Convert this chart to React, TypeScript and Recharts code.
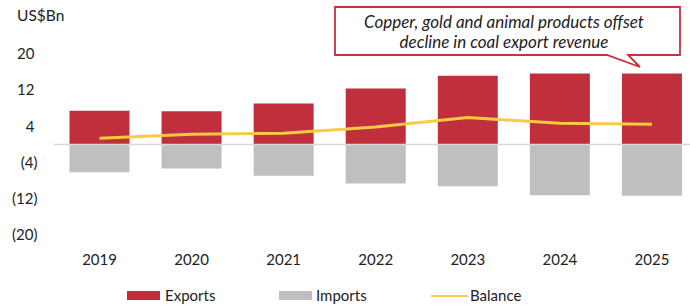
import React from 'react';
import { ComposedChart, Bar, Line, XAxis, YAxis, ReferenceLine, Legend } from 'recharts';

const years = ['2019', '2020', '2021', '2022', '2023', '2024', '2025'];
const exportsBn = [7.5, 7.4, 9.1, 12.4, 15.2, 15.7, 15.7];
const importsBn = [-6.1, -5.3, -6.9, -8.6, -9.2, -11.2, -11.3];
const balanceBn = [1.4, 2.3, 2.5, 3.9, 6.0, 4.7, 4.5];
const yTicks = [-20, -12, -4, 4, 12, 20];

const data = years.map((year, i) => ({
  year,
  exports: exportsBn[i],
  imports: importsBn[i],
  balance: balanceBn[i],
}));

const FONT = 'Lato, "Open Sans", sans-serif';
const RED = '#C22F3C';
const GREY = '#BFBFBF';
const YELLOW = '#F8CB45';

const fmt = (v: number) => (v < 0 ? `(${Math.abs(v)})` : `${v}`);

const YTick = (props: any) => {
  const { x, y, payload } = props;
  const v = payload.value;
  return (
    <text x={v < 0 ? x : x - 3} y={y} dy={5} textAnchor="end" fill="#222" fontSize={15} fontFamily={FONT}>
      {fmt(v)}
    </text>
  );
};

// legend drawn at the positions of the original, slightly cut by the bottom edge
const LegendContent = () => (
  <div style={{ height: 25, position: 'relative', fontFamily: FONT, fontSize: 15, color: '#222', lineHeight: '17px' }}>
    <div style={{ position: 'absolute', left: 119, top: 11, width: 33, height: 9, background: RED }} />
    <span style={{ position: 'absolute', left: 157, top: 7 }}>Exports</span>
    <div style={{ position: 'absolute', left: 271, top: 11, width: 33, height: 9, background: GREY }} />
    <span style={{ position: 'absolute', left: 308, top: 7 }}>Imports</span>
    <div style={{ position: 'absolute', left: 423, top: 15, width: 37, height: 2, background: YELLOW }} />
    <span style={{ position: 'absolute', left: 462, top: 7 }}>Balance</span>
  </div>
);

export default function App() {
  return (
    <div style={{ position: 'fixed', left: 0, top: 0, width: 690, height: 305, overflow: 'hidden', background: '#fff' }}>
      <ComposedChart
        width={760}
        height={305}
        data={data}
        stackOffset="sign"
        margin={{ top: 18, right: 62, bottom: 0, left: 8 }}
      >
        <XAxis
          dataKey="year"
          axisLine={false}
          tickLine={false}
          height={45}
          tickMargin={13}
          tick={{ fill: '#222', fontSize: 15, fontFamily: FONT }}
          interval={0}
        />
        <YAxis
          width={45.5}
          domain={[-20, 28]}
          ticks={yTicks}
          axisLine={false}
          tickLine={false}
          tickMargin={10}
          tick={<YTick />}
        />
        <ReferenceLine y={0} stroke="#D9D9D9" strokeWidth={1.5} ifOverflow="extendDomain" />
        <Bar dataKey="exports" stackId="a" fill={RED} barSize={60} isAnimationActive={false} />
        <Bar dataKey="imports" stackId="a" fill={GREY} barSize={60} isAnimationActive={false} />
        <Line
          dataKey="balance"
          type="linear"
          stroke={YELLOW}
          strokeWidth={3}
          dot={false}
          isAnimationActive={false}
        />
        <Legend verticalAlign="bottom" content={<LegendContent />} />
      </ComposedChart>
      <svg width={690} height={305} style={{ position: 'absolute', left: 0, top: 0, pointerEvents: 'none' }}>
        <text x={17} y={21} fontSize={15.5} fontFamily={FONT} fill="#222">US$Bn</text>
        <path
          d="M335,7 L680,7 L680,55 L628,55 L640,67 L607,55 L335,55 Z"
          fill="#fff"
          stroke="#C8303C"
          strokeWidth={1.8}
        />
        <text x={504} y={28} textAnchor="middle" fontSize={17} fontStyle="italic" fontFamily={FONT} fill="#222">
          Copper, gold and animal products offset
        </text>
        <text x={504} y={48} textAnchor="middle" fontSize={17} fontStyle="italic" fontFamily={FONT} fill="#222">
          decline in coal export revenue
        </text>
      </svg>
    </div>
  );
}
